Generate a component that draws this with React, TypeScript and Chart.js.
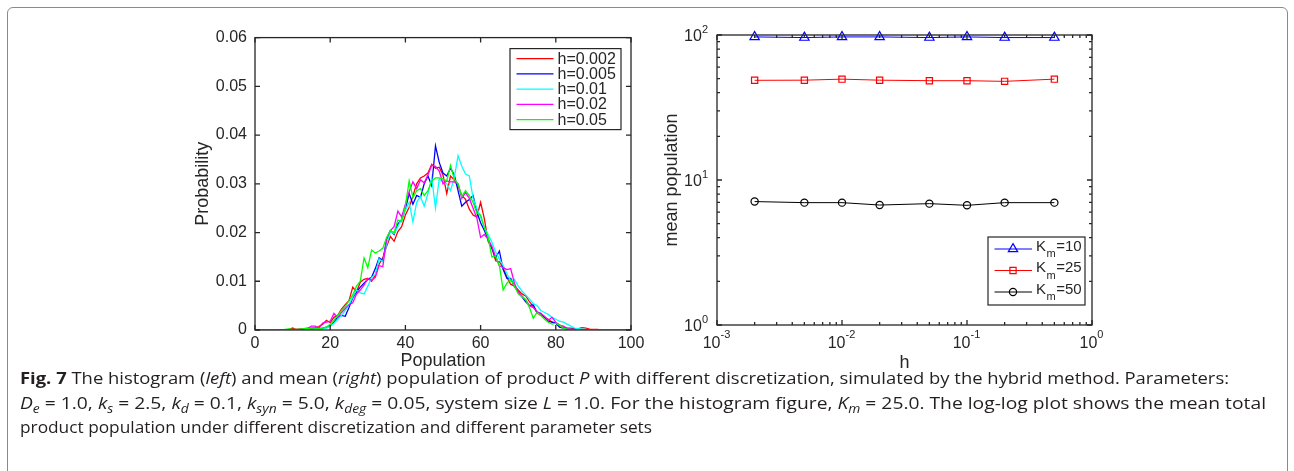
import React, { useEffect, useLayoutEffect, useRef } from 'react';
import { Chart, registerables } from 'chart.js';

Chart.register(...registerables);

// ---------------- data ----------------
const POPULATION = [
  0, 1, 2, 3, 4, 5, 6, 7, 8, 9, 10, 11, 12, 13, 14, 15, 16, 17, 18, 19,
  20, 21, 22, 23, 24, 25, 26, 27, 28, 29, 30, 31, 32, 33, 34, 35, 36, 37, 38, 39,
  40, 41, 42, 43, 44, 45, 46, 47, 48, 49, 50, 51, 52, 53, 54, 55, 56, 57, 58, 59,
  60, 61, 62, 63, 64, 65, 66, 67, 68, 69, 70, 71, 72, 73, 74, 75, 76, 77, 78, 79,
  80, 81, 82, 83, 84, 85, 86, 87, 88, 89, 90, 91, 92, 93, 94, 95, 96, 97, 98, 99, 100,
];

const PROB_H0002 = [
  0, 0, 0, 0, 0, 0, 0, 0, 0, 0.0001,
  0.0004, 0.0001, 0.0002, 0.0003, 0.0004, 0.0004, 0.0005, 0.0007, 0.0012, 0.0020,
  0.0015, 0.0026, 0.0030, 0.0043, 0.0052, 0.0060, 0.0088, 0.0078, 0.0098, 0.0104,
  0.0106, 0.0100, 0.0112, 0.0135, 0.0148, 0.0172, 0.0192, 0.0182, 0.0202, 0.0212,
  0.0236, 0.0252, 0.0275, 0.0300, 0.0312, 0.0316, 0.0322, 0.0340, 0.0332, 0.0334,
  0.0318, 0.0280, 0.0316, 0.0308, 0.0296, 0.0276, 0.0268, 0.0248, 0.0236, 0.0232,
  0.0262, 0.0228, 0.0182, 0.0168, 0.0142, 0.0140, 0.0128, 0.0108, 0.0094, 0.0090,
  0.0082, 0.0074, 0.0070, 0.0058, 0.0048, 0.0036, 0.0030, 0.0026, 0.0022, 0.0016,
  0.0014, 0.0010, 0.0006, 0.0004, 0.0004, 0.0003, 0.0003, 0.0005, 0.0004, 0.0002,
  0.0001, 0.0001, 0, 0, 0, 0, 0, 0, 0, 0,
  0,
];

const PROB_H0005 = [
  0, 0, 0, 0, 0, 0, 0, 0, 0, 0,
  0, 0, 0, 0.0001, 0.0001, 0.0002, 0.0002, 0.0003, 0.0004, 0.0006,
  0.0008, 0.0016, 0.0026, 0.0030, 0.0028, 0.0046, 0.0066, 0.0078, 0.0088, 0.0096,
  0.0104, 0.0108, 0.0126, 0.0148, 0.0142, 0.0186, 0.0204, 0.0196, 0.0218, 0.0226,
  0.0248, 0.0280, 0.0258, 0.0276, 0.0272, 0.0300, 0.0316, 0.0296, 0.0378, 0.0344,
  0.0322, 0.0316, 0.0332, 0.0318, 0.0286, 0.0254, 0.0262, 0.0268, 0.0276, 0.0242,
  0.0220, 0.0204, 0.0186, 0.0168, 0.0148, 0.0162, 0.0124, 0.0106, 0.0106, 0.0090,
  0.0078, 0.0068, 0.0058, 0.0050, 0.0052, 0.0036, 0.0034, 0.0026, 0.0018, 0.0016,
  0.0014, 0.0006, 0.0004, 0.0002, 0.0002, 0.0001, 0, 0, 0, 0,
  0, 0, 0, 0, 0, 0, 0, 0, 0, 0,
  0,
];

const PROB_H001 = [
  0, 0, 0, 0, 0, 0, 0, 0, 0, 0,
  0, 0, 0, 0, 0, 0, 0.0001, 0.0001, 0.0002, 0.0004,
  0.0008, 0.0014, 0.0022, 0.0030, 0.0040, 0.0052, 0.0068, 0.0082, 0.0076, 0.0074,
  0.0090, 0.0108, 0.0114, 0.0146, 0.0140, 0.0176, 0.0202, 0.0198, 0.0212, 0.0228,
  0.0246, 0.0262, 0.0222, 0.0262, 0.0274, 0.0254, 0.0280, 0.0312, 0.0250, 0.0310,
  0.0304, 0.0300, 0.0286, 0.0312, 0.0358, 0.0336, 0.0320, 0.0316, 0.0270, 0.0250,
  0.0232, 0.0210, 0.0196, 0.0180, 0.0160, 0.0146, 0.0132, 0.0116, 0.0100, 0.0104,
  0.0090, 0.0080, 0.0072, 0.0064, 0.0054, 0.0050, 0.0040, 0.0036, 0.0032, 0.0026,
  0.0022, 0.0018, 0.0016, 0.0012, 0.0008, 0.0004, 0.0003, 0.0002, 0.0001, 0,
  0, 0, 0, 0, 0, 0, 0, 0, 0, 0,
  0,
];

const PROB_H002 = [
  0, 0, 0, 0, 0, 0, 0, 0, 0, 0,
  0, 0.0001, 0.0002, 0.0002, 0.0003, 0.0008, 0.0008, 0.0004, 0.0014, 0.0016,
  0.0018, 0.0034, 0.0026, 0.0036, 0.0044, 0.0052, 0.0056, 0.0074, 0.0082, 0.0092,
  0.0106, 0.0102, 0.0108, 0.0132, 0.0130, 0.0188, 0.0204, 0.0212, 0.0244, 0.0232,
  0.0258, 0.0284, 0.0304, 0.0290, 0.0308, 0.0302, 0.0318, 0.0338, 0.0336, 0.0326,
  0.0300, 0.0306, 0.0304, 0.0304, 0.0300, 0.0270, 0.0282, 0.0270, 0.0250, 0.0230,
  0.0190, 0.0196, 0.0186, 0.0172, 0.0150, 0.0132, 0.0128, 0.0124, 0.0126, 0.0096,
  0.0078, 0.0070, 0.0062, 0.0050, 0.0046, 0.0038, 0.0034, 0.0028, 0.0020, 0.0026,
  0.0016, 0.0010, 0.0008, 0.0004, 0.0002, 0.0001, 0, 0, 0, 0,
  0, 0, 0, 0, 0, 0, 0, 0, 0, 0,
  0,
];

const PROB_H005 = [
  0, 0, 0, 0, 0, 0, 0, 0, 0.0001, 0.0002,
  0.0001, 0.0001, 0.0002, 0.0003, 0.0003, 0.0004, 0.0004, 0.0003, 0.0004, 0.0006,
  0.0012, 0.0020, 0.0030, 0.0040, 0.0048, 0.0060, 0.0072, 0.0090, 0.0100, 0.0148,
  0.0128, 0.0164, 0.0158, 0.0162, 0.0168, 0.0190, 0.0204, 0.0200, 0.0226, 0.0222,
  0.0254, 0.0306, 0.0272, 0.0286, 0.0290, 0.0276, 0.0286, 0.0306, 0.0312, 0.0312,
  0.0310, 0.0306, 0.0338, 0.0310, 0.0300, 0.0274, 0.0286, 0.0276, 0.0262, 0.0240,
  0.0236, 0.0210, 0.0190, 0.0150, 0.0152, 0.0132, 0.0082, 0.0096, 0.0104, 0.0090,
  0.0074, 0.0068, 0.0062, 0.0046, 0.0024, 0.0036, 0.0030, 0.0022, 0.0016, 0.0012,
  0.0014, 0.0010, 0.0004, 0.0002, 0.0001, 0, 0, 0, 0, 0,
  0, 0, 0, 0, 0, 0, 0, 0, 0, 0,
  0,
];

const HIST_SERIES = [PROB_H0002, PROB_H0005, PROB_H001, PROB_H002, PROB_H005];
const HIST_LABELS = ['h=0.002', 'h=0.005', 'h=0.01', 'h=0.02', 'h=0.05'];
const HIST_COLORS = ['#ff0000', '#0000ff', '#00ffff', '#ff00ff', '#00ff00'];
const POP_TICKS = [0, 20, 40, 60, 80, 100];
const PROB_TICKS = [0, 0.01, 0.02, 0.03, 0.04, 0.05, 0.06];

const H_VALUES = [0.002, 0.005, 0.01, 0.02, 0.05, 0.1, 0.2, 0.5];
const MEAN_KM10 = [97, 96, 97, 97, 96, 97, 96, 96];
const MEAN_KM25 = [48.7, 48.8, 49.6, 48.8, 48.4, 48.4, 47.9, 49.6];
const MEAN_KM50 = [7.1, 6.98, 6.98, 6.72, 6.87, 6.69, 6.98, 6.98];
const KM_SERIES = [MEAN_KM10, MEAN_KM25, MEAN_KM50];
const KM_VALUES = ['10', '25', '50'];
const KM_COLORS = ['#0000ff', '#ff0000', '#000000'];
const KM_MARKERS = ['triangle', 'rect', 'circle'];
const KM_RADII = [5.4, 4.4, 3.6];
const LOG_X_DECADES = [-3, -2, -1, 0];
const LOG_Y_DECADES = [0, 1, 2];

// ---------------- style ----------------
const AXIS_COLOR = '#262626';
const FONT = '"Liberation Sans", Arial, Helvetica, sans-serif';
const TICK_LEN = 5;
const MINOR_LEN = 3;

function drawBox(ctx: CanvasRenderingContext2D, a: any) {
  ctx.strokeStyle = AXIS_COLOR;
  ctx.lineWidth = 1.3;
  ctx.strokeRect(a.left, a.top, a.right - a.left, a.bottom - a.top);
}

function drawMarker(ctx: CanvasRenderingContext2D, style: string, x: number, y: number, r: number) {
  ctx.beginPath();
  if (style === 'triangle') {
    ctx.moveTo(x, y - r);
    ctx.lineTo(x + r * Math.sin((2 * Math.PI) / 3), y - r * Math.cos((2 * Math.PI) / 3));
    ctx.lineTo(x + r * Math.sin((4 * Math.PI) / 3), y - r * Math.cos((4 * Math.PI) / 3));
    ctx.closePath();
  } else if (style === 'rect') {
    const s = r * Math.SQRT1_2;
    ctx.rect(x - s, y - s, 2 * s, 2 * s);
  } else {
    ctx.arc(x, y, r, 0, Math.PI * 2);
  }
  ctx.stroke();
}

const histFrame = {
  id: 'histFrame',
  afterDraw(chart: any) {
    const { ctx, chartArea: a, scales } = chart;
    const xs = scales.x;
    const ys = scales.y;
    ctx.save();
    drawBox(ctx, a);
    ctx.beginPath();
    for (const v of POP_TICKS) {
      const px = xs.getPixelForValue(v);
      ctx.moveTo(px, a.bottom);
      ctx.lineTo(px, a.bottom - TICK_LEN);
      ctx.moveTo(px, a.top);
      ctx.lineTo(px, a.top + TICK_LEN);
    }
    for (const v of PROB_TICKS) {
      const py = ys.getPixelForValue(v);
      ctx.moveTo(a.left, py);
      ctx.lineTo(a.left + TICK_LEN, py);
      ctx.moveTo(a.right, py);
      ctx.lineTo(a.right - TICK_LEN, py);
    }
    ctx.stroke();

    // legend
    const bw = 111;
    const bh = 81;
    const bx = a.right - 10 - bw;
    const by = a.top + 11;
    ctx.fillStyle = '#ffffff';
    ctx.fillRect(bx, by, bw, bh);
    ctx.lineWidth = 1.2;
    ctx.strokeStyle = AXIS_COLOR;
    ctx.strokeRect(bx, by, bw, bh);
    ctx.font = `16px ${FONT}`;
    ctx.textBaseline = 'middle';
    ctx.textAlign = 'left';
    HIST_LABELS.forEach((label, i) => {
      const y = by + 10 + i * 15.25;
      ctx.strokeStyle = HIST_COLORS[i];
      ctx.lineWidth = 1.2;
      ctx.beginPath();
      ctx.moveTo(bx + 6.5, y);
      ctx.lineTo(bx + 43.5, y);
      ctx.stroke();
      ctx.fillStyle = AXIS_COLOR;
      ctx.fillText(label, bx + 47.5, y + 0.5);
    });
    ctx.restore();
  },
};

const meanFrame = {
  id: 'meanFrame',
  afterDraw(chart: any) {
    const { ctx, chartArea: a, scales } = chart;
    const xs = scales.x;
    const ys = scales.y;
    ctx.save();
    drawBox(ctx, a);
    ctx.beginPath();
    LOG_X_DECADES.forEach((d, i) => {
      const px = xs.getPixelForValue(Math.pow(10, d));
      ctx.moveTo(px, a.bottom);
      ctx.lineTo(px, a.bottom - TICK_LEN);
      ctx.moveTo(px, a.top);
      ctx.lineTo(px, a.top + TICK_LEN);
      if (i < LOG_X_DECADES.length - 1) {
        for (let m = 2; m <= 9; m++) {
          const mx = xs.getPixelForValue(m * Math.pow(10, d));
          ctx.moveTo(mx, a.bottom);
          ctx.lineTo(mx, a.bottom - MINOR_LEN);
          ctx.moveTo(mx, a.top);
          ctx.lineTo(mx, a.top + MINOR_LEN);
        }
      }
    });
    LOG_Y_DECADES.forEach((d, i) => {
      const py = ys.getPixelForValue(Math.pow(10, d));
      ctx.moveTo(a.left, py);
      ctx.lineTo(a.left + TICK_LEN, py);
      ctx.moveTo(a.right, py);
      ctx.lineTo(a.right - TICK_LEN, py);
      if (i < LOG_Y_DECADES.length - 1) {
        for (let m = 2; m <= 9; m++) {
          const my = ys.getPixelForValue(m * Math.pow(10, d));
          ctx.moveTo(a.left, my);
          ctx.lineTo(a.left + MINOR_LEN, my);
          ctx.moveTo(a.right, my);
          ctx.lineTo(a.right - MINOR_LEN, my);
        }
      }
    });
    ctx.stroke();

    // tick labels with superscripts
    ctx.fillStyle = AXIS_COLOR;
    ctx.textBaseline = 'middle';
    ctx.textAlign = 'left';
    const baseFont = `16px ${FONT}`;
    const expFont = `11px ${FONT}`;
    ctx.font = baseFont;
    const wb = ctx.measureText('10').width;
    for (const d of LOG_Y_DECADES) {
      const py = ys.getPixelForValue(Math.pow(10, d));
      const e = String(d);
      ctx.font = expFont;
      const we = ctx.measureText(e).width;
      const ex = a.left - 9 - we;
      ctx.fillText(e, ex, py - 5);
      ctx.font = baseFont;
      ctx.fillText('10', ex - wb, py + 2);
    }
    for (const d of LOG_X_DECADES) {
      const px = xs.getPixelForValue(Math.pow(10, d));
      const e = String(d);
      ctx.font = expFont;
      const we = ctx.measureText(e).width;
      const sx = px - (wb + we) / 2 - 0.5;
      ctx.fillText(e, sx + wb, a.bottom + 10);
      ctx.font = baseFont;
      ctx.fillText('10', sx, a.bottom + 18.5);
    }

    // legend
    const bw = 97;
    const bh = 68;
    const bx = a.right - 7 - bw;
    const by = a.bottom - 20 - bh;
    ctx.fillStyle = '#ffffff';
    ctx.fillRect(bx, by, bw, bh);
    ctx.lineWidth = 1.2;
    ctx.strokeStyle = AXIS_COLOR;
    ctx.strokeRect(bx, by, bw, bh);
    const rows = [12, 33.5, 55];
    KM_VALUES.forEach((v, i) => {
      const y = by + rows[i];
      ctx.strokeStyle = KM_COLORS[i];
      ctx.lineWidth = 1;
      ctx.beginPath();
      ctx.moveTo(bx + 6.5, y);
      ctx.lineTo(bx + 44, y);
      ctx.stroke();
      ctx.lineWidth = 1.2;
      drawMarker(ctx, KM_MARKERS[i], bx + 25, y, KM_RADII[i]);
      ctx.fillStyle = AXIS_COLOR;
      ctx.font = `15px ${FONT}`;
      const x0 = bx + 48;
      ctx.fillText('K', x0, y - 2.5);
      const wk = ctx.measureText('K').width;
      ctx.font = `11px ${FONT}`;
      ctx.fillText('m', x0 + wk + 0.5, y + 5);
      const wm = ctx.measureText('m').width;
      ctx.font = `15px ${FONT}`;
      ctx.fillText('=' + v, x0 + wk + wm + 1, y - 2.5);
    });
    ctx.restore();
  },
};

function HistogramChart() {
  const ref = useRef<HTMLCanvasElement>(null);
  useEffect(() => {
    const chart = new Chart(ref.current as HTMLCanvasElement, {
      type: 'line',
      data: {
        datasets: HIST_SERIES.map((s, i) => ({
          label: HIST_LABELS[i],
          data: POPULATION.map((x, j) => ({ x, y: s[j] })),
          borderColor: HIST_COLORS[i],
          backgroundColor: HIST_COLORS[i],
          borderWidth: 1.3,
          pointRadius: 0,
          fill: false,
          tension: 0,
          order: HIST_SERIES.length - i,
        })),
      },
      options: {
        responsive: false,
        animation: false,
        events: [],
        layout: { padding: { left: 0, top: 14, right: 19, bottom: 0 } },
        plugins: { legend: { display: false }, tooltip: { enabled: false } },
        scales: {
          x: {
            type: 'linear',
            min: 0,
            max: 100,
            grid: { display: false, drawTicks: false },
            border: { display: false },
            ticks: { stepSize: 20, padding: 4, color: AXIS_COLOR, font: { family: FONT, size: 16 } },
            title: { display: true, text: 'Population', color: AXIS_COLOR, font: { family: FONT, size: 18 }, padding: { top: 0, bottom: 3.5 } },
            afterFit: (s: any) => { s.height = 45; },
          },
          y: {
            type: 'linear',
            min: 0,
            max: 0.06,
            grid: { display: false, drawTicks: false },
            border: { display: false },
            ticks: { stepSize: 0.01, padding: 8, color: AXIS_COLOR, font: { family: FONT, size: 16 } },
            title: { display: true, text: 'Probability', color: AXIS_COLOR, font: { family: FONT, size: 18 }, padding: { top: 12.5, bottom: 0 } },
            afterFit: (s: any) => { s.width = 75; },
          },
        },
      } as any,
      plugins: [histFrame],
    });
    return () => chart.destroy();
  }, []);
  return <canvas ref={ref} width={470} height={355} style={{ position: 'absolute', left: 180, top: 20 }} />;
}

function MeanChart() {
  const ref = useRef<HTMLCanvasElement>(null);
  useEffect(() => {
    const chart = new Chart(ref.current as HTMLCanvasElement, {
      type: 'line',
      data: {
        datasets: KM_SERIES.map((s, i) => ({
          label: 'K_m=' + KM_VALUES[i],
          data: H_VALUES.map((h, j) => ({ x: h, y: s[j] })),
          borderColor: KM_COLORS[i],
          backgroundColor: 'rgba(0,0,0,0)',
          borderWidth: 1,
          pointStyle: KM_MARKERS[i],
          pointRadius: KM_RADII[i],
          pointBorderColor: KM_COLORS[i],
          pointBackgroundColor: 'rgba(0,0,0,0)',
          pointBorderWidth: 1.2,
          fill: false,
          tension: 0,
          clip: false,
        })),
      },
      options: {
        responsive: false,
        animation: false,
        events: [],
        layout: { padding: { left: 0, top: 15, right: 18, bottom: 0 } },
        plugins: { legend: { display: false }, tooltip: { enabled: false } },
        scales: {
          x: {
            type: 'logarithmic',
            min: 0.001,
            max: 1,
            grid: { display: false, drawTicks: false },
            border: { display: false },
            ticks: { display: false },
            title: { display: true, text: 'h', color: AXIS_COLOR, font: { family: FONT, size: 18 }, padding: { top: 0, bottom: 1.5 } },
            afterFit: (s: any) => { s.height = 50; },
          },
          y: {
            type: 'logarithmic',
            min: 1,
            max: 100,
            grid: { display: false, drawTicks: false },
            border: { display: false },
            ticks: { display: false },
            title: { display: true, text: 'mean population', color: AXIS_COLOR, font: { family: FONT, size: 18 }, padding: { top: 10.9, bottom: 0 } },
            afterFit: (s: any) => { s.width = 67; },
          },
        },
      } as any,
      plugins: [meanFrame],
    });
    return () => chart.destroy();
  }, []);
  return <canvas ref={ref} width={460} height={355} style={{ position: 'absolute', left: 650, top: 20 }} />;
}

const CAPTION_FONT = '"Open Sans", "Noto Sans", sans-serif';
const CAPTION_TARGETS = [1209, 1246, 632];
const CAPTION_CENTERS = [378, 403, 427];

function Sub({ children }: { children: React.ReactNode }) {
  return <sub style={{ fontSize: '0.72em', verticalAlign: '-0.3em', fontStyle: 'italic' }}>{children}</sub>;
}

function Caption() {
  const r0 = useRef<HTMLSpanElement>(null);
  const r1 = useRef<HTMLSpanElement>(null);
  const r2 = useRef<HTMLSpanElement>(null);
  useLayoutEffect(() => {
    const fit = () => {
      [r0, r1, r2].forEach((r, i) => {
        const el = r.current;
        if (!el) return;
        el.style.transform = 'none';
        const w = el.getBoundingClientRect().width;
        if (w > 0) el.style.transform = `scaleX(${CAPTION_TARGETS[i] / w})`;
      });
    };
    fit();
    if ((document as any).fonts && (document as any).fonts.ready) (document as any).fonts.ready.then(fit);
  }, []);
  const lineStyle = (i: number): React.CSSProperties => ({
    position: 'absolute',
    left: 20,
    top: CAPTION_CENTERS[i] - 12,
    height: 24,
    lineHeight: '24px',
    whiteSpace: 'nowrap',
    fontFamily: CAPTION_FONT,
    fontSize: 16.5,
    color: '#231f20',
  });
  const spanStyle: React.CSSProperties = { display: 'inline-block', transformOrigin: '0 50%' };
  return (
    <>
      <div style={lineStyle(0)}>
        <span ref={r0} style={spanStyle}>
          <b>Fig. 7</b> The histogram (<i>left</i>) and mean (<i>right</i>) population of product <i>P</i> with different discretization, simulated by the hybrid method. Parameters:
        </span>
      </div>
      <div style={lineStyle(1)}>
        <span ref={r1} style={spanStyle}>
          <i>D</i><Sub>e</Sub> = 1.0, <i>k</i><Sub>s</Sub> = 2.5, <i>k</i><Sub>d</Sub> = 0.1, <i>k</i><Sub>syn</Sub> = 5.0, <i>k</i><Sub>deg</Sub> = 0.05, system size <i>L</i> = 1.0. For the histogram figure, <i>K</i><Sub>m</Sub> = 25.0. The log-log plot shows the mean total
        </span>
      </div>
      <div style={lineStyle(2)}>
        <span ref={r2} style={spanStyle}>
          product population under different discretization and different parameter sets
        </span>
      </div>
    </>
  );
}

export default function App() {
  return (
    <div style={{ position: 'absolute', left: 0, top: 0, width: 1294, height: 471, overflow: 'hidden', background: '#ffffff' }}>
      <div
        style={{
          position: 'absolute',
          left: 7,
          top: 7,
          width: 1281,
          height: 520,
          border: '1.5px solid #8a8a8a',
          borderRadius: 6,
          boxSizing: 'border-box',
        }}
      />
      <HistogramChart />
      <MeanChart />
      <Caption />
    </div>
  );
}
